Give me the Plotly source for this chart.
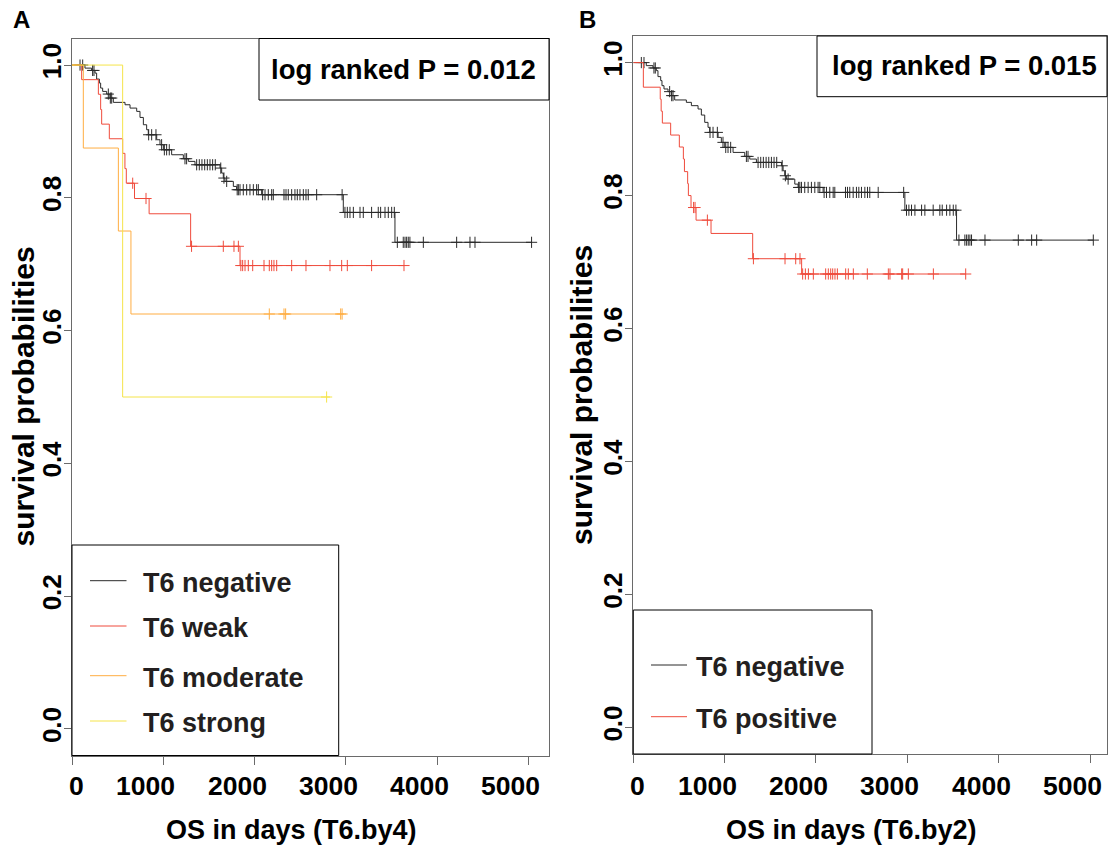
import bisect
import plotly.graph_objects as go

# ---------------- data ----------------
# T6 negative (same group in both panels): step times (days) and survival after each step
NEG_T = [0, 142, 215, 252, 270, 300, 314, 336, 380, 416, 453, 581, 636, 709, 745, 782, 818,
         836, 928, 964, 1001, 1092, 1220, 1275, 1348, 1622, 1640, 1658, 1676, 1768, 1804,
         2078, 2973, 3539]
NEG_S = [1.0, 0.9954, 0.9919, 0.9879, 0.9789, 0.9729, 0.9653, 0.9603, 0.9563, 0.9503, 0.9438,
         0.9402, 0.9352, 0.9302, 0.9211, 0.9101, 0.9026, 0.8950, 0.8875, 0.8800, 0.8724,
         0.8649, 0.8589, 0.8549, 0.8498, 0.8448, 0.8373, 0.8298, 0.8248, 0.8172, 0.8122,
         0.8047, 0.7780, 0.7330]
NEG_END = 5036
NEG_CENS = [88, 117, 226, 241, 398, 420, 435, 840, 873, 920, 982, 1012, 1037, 1066, 1238, 1256,
            1366, 1395, 1424, 1454, 1483, 1512, 1541, 1570, 1630, 1665, 1695, 1810, 1823, 1841,
            1877, 1914, 1950, 1987, 2023, 2042, 2089, 2115, 2151, 2188, 2206, 2323, 2345, 2370,
            2407, 2443, 2469, 2498, 2535, 2564, 2589, 2681, 2960, 2991, 3017, 3046, 3083, 3156,
            3192, 3283, 3356, 3382, 3430, 3466, 3503, 3532, 3565, 3630, 3649, 3667, 3685, 3703,
            3850, 4215, 4361, 4416, 5036]

# T6 weak
WEAK_T = [0, 106, 289, 314, 325, 409, 555, 580, 595, 685, 845, 1300, 1841]
WEAK_S = [1.0, 0.978, 0.956, 0.933, 0.911, 0.889, 0.867, 0.844, 0.822, 0.799, 0.776, 0.727, 0.698]
WEAK_END = 3638
WEAK_CENS = [665, 811, 1310, 1658, 1775, 1823, 1850, 1870, 1896, 1932, 1980, 2104, 2162, 2188,
             2213, 2243, 2407, 2564, 2827, 2955, 3017, 3283, 3638]

# T6 moderate
MOD_T = [0, 124, 508, 646]
MOD_S = [1.0, 0.875, 0.750, 0.625]
MOD_END = 2980
MOD_CENS = [2162, 2323, 2341, 2944, 2960]

# T6 strong
STR_T = [0, 555]
STR_S = [1.0, 0.5]
STR_END = 2827
STR_CENS = [2790]

# T6 positive (panel B)
POS_T = [0, 110, 295, 305, 318, 409, 504, 548, 560, 595, 603, 632, 687, 851, 1307, 1843]
POS_S = [1.0, 0.963, 0.945, 0.927, 0.909, 0.891, 0.873, 0.855, 0.836, 0.818, 0.800, 0.782,
         0.763, 0.743, 0.705, 0.682]
POS_END = 3639
POS_CENS = [660, 676, 811, 1315, 1661, 1778, 1825, 1854, 1884, 1917, 1971, 2106, 2135, 2161,
            2183, 2208, 2234, 2325, 2354, 2409, 2562, 2792, 2810, 2938, 2949, 3011, 3285, 3639]

X_TICKS = [0, 1000, 2000, 3000, 4000, 5000]
X_TICK_TEXT = ["0", "1000", "2000", "3000", "4000", "5000"]
Y_TICKS = [0.0, 0.2, 0.4, 0.6, 0.8, 1.0]
Y_TICK_TEXT = ["0.0", "0.2", "0.4", "0.6", "0.8", "1.0"]

LEGEND_A = ["T6 negative", "T6 weak", "T6 moderate", "T6 strong"]
LEGEND_B = ["T6 negative", "T6 positive"]
P_TEXT_A = "log ranked P = 0.012"
P_TEXT_B = "log ranked P = 0.015"
XTITLE_A = "OS in days (T6.by4)"
XTITLE_B = "OS in days (T6.by2)"
YTITLE = "survival probabilities"

# ---------------- styling ----------------
W, H = 1110, 851
C_BLACK = "#2a2a2a"
C_RED = "#ef4b3c"
C_ORANGE = "#ffad42"
C_YELLOW = "#f5e44a"
FONT = "Liberation Sans, Arial, Helvetica, sans-serif"
AX_COL = "#6a6a6a"


def surv_at(times, survs, t):
    i = bisect.bisect_right(times, t) - 1
    return survs[i]


def add_km(fig, times, survs, end, cens, color, name, xa, ya):
    fig.add_trace(go.Scatter(
        x=times + [end], y=survs + [survs[-1]], mode="lines",
        line=dict(color=color, width=1, shape="hv"), name=name,
        xaxis=xa, yaxis=ya, showlegend=False, hoverinfo="skip"))
    fig.add_trace(go.Scatter(
        x=cens, y=[surv_at(times, survs, t) for t in cens], mode="markers",
        marker=dict(symbol="cross-thin", size=8, line=dict(color=color, width=1)),
        xaxis=xa, yaxis=ya, showlegend=False, hoverinfo="skip"))


fig = go.Figure()
add_km(fig, NEG_T, NEG_S, NEG_END, NEG_CENS, C_BLACK, LEGEND_A[0], "x", "y")
add_km(fig, WEAK_T, WEAK_S, WEAK_END, WEAK_CENS, C_RED, LEGEND_A[1], "x", "y")
add_km(fig, MOD_T, MOD_S, MOD_END, MOD_CENS, C_ORANGE, LEGEND_A[2], "x", "y")
add_km(fig, STR_T, STR_S, STR_END, STR_CENS, C_YELLOW, LEGEND_A[3], "x", "y")
add_km(fig, NEG_T, NEG_S, NEG_END, NEG_CENS, C_BLACK, LEGEND_B[0], "x2", "y2")
add_km(fig, POS_T, POS_S, POS_END, POS_CENS, C_RED, LEGEND_B[1], "x2", "y2")


def px(x):
    return x / W


def py(y):
    return 1 - y / H


tickfont = dict(family=FONT, size=26, color="black", weight="bold")
common_x = dict(showline=True, mirror=True, linecolor=AX_COL, linewidth=1, ticks="outside",
                ticklen=8, tickcolor=AX_COL, tickwidth=1, tickvals=X_TICKS,
                showticklabels=False, showgrid=False, zeroline=False, fixedrange=True)
common_y = dict(showline=True, mirror=True, linecolor=AX_COL, linewidth=1, ticks="outside",
                ticklen=7, tickcolor=AX_COL, tickwidth=1, tickvals=Y_TICKS, ticktext=Y_TICK_TEXT,
                tickfont=tickfont, tickangle=-90, showgrid=False, zeroline=False,
                fixedrange=True, range=[-0.04, 1.04], ticklabelstandoff=-7)

fig.update_layout(
    width=W, height=H, margin=dict(l=0, r=0, t=0, b=0),
    paper_bgcolor="white", plot_bgcolor="white", showlegend=False,
    xaxis=dict(domain=[px(72), px(549)], range=[0, 5227], anchor="y", **common_x),
    yaxis=dict(domain=[py(755.5), py(38.5)], anchor="x", **common_y),
    xaxis2=dict(domain=[px(633.3), px(1107)], range=[0, 5186], anchor="y2", **common_x),
    yaxis2=dict(domain=[py(754), py(36)], anchor="x2", **common_y),
)

shapes = []
annots = []


def box(x0, y0, x1, y1):
    shapes.append(dict(type="rect", xref="paper", yref="paper", x0=px(x0), x1=px(x1),
                       y0=py(y1), y1=py(y0), line=dict(color="black", width=1),
                       fillcolor="white", layer="above"))


def text(x, y, s, size=27, xanchor="center", angle=0, color="black"):
    annots.append(dict(x=px(x), y=py(y), xref="paper", yref="paper", text=s, showarrow=False,
                       xanchor=xanchor, yanchor="middle", textangle=angle,
                       font=dict(family=FONT, size=size, color=color, weight="bold")))


# x tick labels (right-aligned slightly past each tick, as in the reference)
for xr in ["x", "x2"]:
    for v, s in zip(X_TICKS, X_TICK_TEXT):
        annots.append(dict(x=v, y=py(786), xref=xr, yref="paper", text=s, showarrow=False,
                           xanchor="right", yanchor="middle", xshift=14,
                           font=dict(family=FONT, size=26.5, color="black", weight="bold")))

# p-value boxes
box(259, 38.5, 549, 100)
text(403, 69, P_TEXT_A, size=27.5)
box(817, 36, 1107, 96.7)
text(964, 66, P_TEXT_B, size=27.5)

# legend A
box(72, 545, 338.7, 755.5)
for name, col, yy in zip(LEGEND_A, [C_BLACK, C_RED, C_ORANGE, C_YELLOW], [580.7, 626, 675.7, 721]):
    shapes.append(dict(type="line", xref="paper", yref="paper", x0=px(90), x1=px(126.5),
                       y0=py(yy), y1=py(yy), line=dict(color=col, width=1), layer="above"))
    text(141, yy + 2, name, xanchor="left", color="#231f20")

# legend B
box(633.3, 610, 872, 754)
for name, col, yy in zip(LEGEND_B, [C_BLACK, C_RED], [665, 716.7]):
    shapes.append(dict(type="line", xref="paper", yref="paper", x0=px(651), x1=px(687),
                       y0=py(yy), y1=py(yy), line=dict(color=col, width=1), layer="above"))
    text(694, yy + 2, name, xanchor="left", color="#231f20")

# axis titles
text(291, 830, XTITLE_A, size=27)
text(851, 830, XTITLE_B, size=27)
text(23, 396.5, YTITLE, size=30, angle=-90)
text(581, 395, YTITLE, size=30, angle=-90)

# panel labels
text(21.5, 20, "A", size=24)
text(587.5, 20, "B", size=24)

fig.update_layout(shapes=shapes, annotations=annots)
fig.write_html("out.html", config={"displayModeBar": False},
               post_script="document.body.style.margin='0px';document.body.style.padding='0px';")
